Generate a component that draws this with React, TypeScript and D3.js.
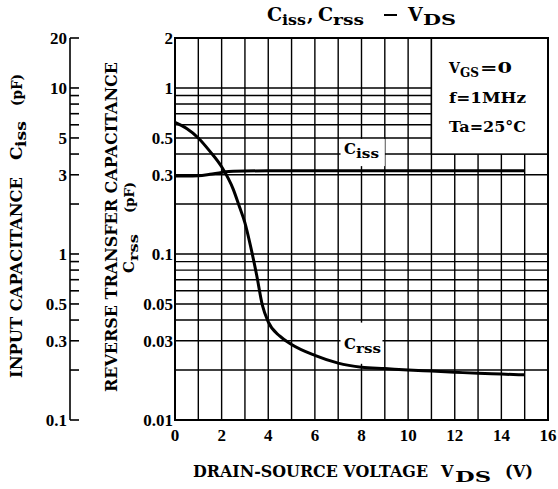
import React from "react";
import * as d3 from "d3";

// x axis
const vdsTicks = [0, 2, 4, 6, 8, 10, 12, 14, 16];
const vdsGrid = d3.range(0, 17);

// inner axis: Crss
const crssTicks = [2, 1, 0.5, 0.3, 0.1, 0.05, 0.03, 0.01];
const crssTickLabels = ["2", "1", "0.5", "0.3", "0.1", "0.05", "0.03", "0.01"];
const crssGrid = [1, 0.9, 0.8, 0.7, 0.6, 0.5, 0.4, 0.3, 0.2, 0.1, 0.09, 0.08, 0.07, 0.06, 0.05, 0.04, 0.03, 0.02];

// outer axis: Ciss
const cissTicks = [20, 10, 5, 3, 1, 0.5, 0.3, 0.1];
const cissTickLabels = ["20", "10", "5", "3", "1", "0.5", "0.3", "0.1"];
const cissMinor = [9, 8, 7, 6, 4, 2, 0.9, 0.8, 0.7, 0.6, 0.4, 0.2];

// curves
const crssV = [0, 0.5, 1.0, 1.5, 2.0, 2.5, 2.75, 3.0, 3.25, 3.5, 3.75, 4.0, 4.5, 5, 6, 7, 8, 9, 10, 11, 12, 13, 14, 15];
const crssPf = [0.62, 0.57, 0.5, 0.415, 0.335, 0.245, 0.195, 0.154, 0.11, 0.075, 0.049, 0.039, 0.032, 0.0285, 0.0245, 0.022, 0.0208, 0.0204, 0.02, 0.0197, 0.0194, 0.0191, 0.0189, 0.0187];
const cissV = [0, 0.5, 1.0, 1.5, 2.0, 2.5, 4, 8, 12, 15];
const cissPf = [2.95, 2.95, 2.96, 3.02, 3.1, 3.15, 3.17, 3.17, 3.17, 3.17];

const NUM = "'Liberation Serif', 'Times New Roman', serif";
const TXT = "'DejaVu Serif', serif";

export default function App() {
  const x = d3.scaleLinear().domain([0, 16]).range([175, 548]);
  const yR = d3.scaleLog().domain([0.01, 2]).range([420, 38]);
  const yC = d3.scaleLog().domain([0.1, 20]).range([420, 38]);

  const crssLine = d3
    .line<number>()
    .x((d, i) => x(crssV[i]))
    .y(d => yR(d))
    .curve(d3.curveMonotoneX);
  const cissLine = d3
    .line<number>()
    .x((d, i) => x(cissV[i]))
    .y(d => yC(d))
    .curve(d3.curveMonotoneX);

  const [x0, x1] = x.range();
  const [yb, yt] = yR.range();
  const fit = "spacingAndGlyphs";

  return (
    <svg
      width={558}
      height={489}
      style={{ position: "absolute", left: 0, top: 0, background: "#fff" }}
      fontWeight="bold"
    >
      <rect width={558} height={489} fill="#fff" />

      {/* title */}
      <g fontFamily={TXT}>
        <text x={267} y={21} fontSize={19}>C</text>
        <text x={282} y={25} fontSize={15} textLength={24} lengthAdjust={fit}>iss</text>
        <text x={307} y={21} fontSize={19}>,</text>
        <text x={318} y={21} fontSize={19}>C</text>
        <text x={333} y={25} fontSize={15} textLength={31} lengthAdjust={fit}>rss</text>
        <line x1={384} x2={397} y1={15} y2={15} stroke="#000" strokeWidth={2} />
        <text x={408} y={21} fontSize={19}>V</text>
        <text x={423} y={25} fontSize={15} textLength={33} lengthAdjust={fit}>DS</text>
      </g>

      {/* grid */}
      <g stroke="#000" strokeWidth={1.4}>
        {vdsGrid.map(v => (
          <line key={"v" + v} x1={x(v)} x2={x(v)} y1={yt} y2={yb} />
        ))}
        {crssGrid.map(v => (
          <line key={"h" + v} x1={x0} x2={x1} y1={yR(v)} y2={yR(v)} />
        ))}
      </g>

      {/* conditions box */}
      <rect
        x={x(11)}
        y={yR(2)}
        width={x(16) - x(11)}
        height={yR(0.4) - yR(2)}
        fill="#fff"
        stroke="#000"
        strokeWidth={1.4}
      />
      <g fontFamily={TXT} fontSize={14}>
        <text x={449} y={73}>V</text>
        <text x={460} y={77} fontSize={12} textLength={19} lengthAdjust={fit}>GS</text>
        <text x={480} y={73} textLength={32} lengthAdjust={fit}>=0</text>
        <text x={449} y={103} textLength={77} lengthAdjust={fit}>f=1MHz</text>
        <text x={449} y={132} textLength={77} lengthAdjust={fit}>Ta=25°C</text>
      </g>

      {/* label cut-outs */}
      <rect x={x(7.1)} y={yR(0.5) + 1} width={x(9.0) - x(7.1)} height={yR(0.343) - yR(0.5)} fill="#fff" />
      <rect x={x(7.1)} y={yR(0.0386)} width={x(8.9) - x(7.1)} height={yR(0.0218) - yR(0.0386)} fill="#fff" />
      <g fontFamily={TXT}>
        <text x={344} y={154} fontSize={15}>C</text>
        <text x={356} y={158} fontSize={13} textLength={23} lengthAdjust={fit}>iss</text>
        <text x={344} y={349} fontSize={15}>C</text>
        <text x={356} y={353} fontSize={13} textLength={25} lengthAdjust={fit}>rss</text>
      </g>

      {/* frame */}
      <rect x={x0} y={yt} width={x1 - x0} height={yb - yt} fill="none" stroke="#000" strokeWidth={2} />

      {/* curves */}
      <path d={cissLine(cissPf) || ""} fill="none" stroke="#000" strokeWidth={3} />
      <path d={crssLine(crssPf) || ""} fill="none" stroke="#000" strokeWidth={3} />

      {/* x tick labels */}
      <g fontFamily={NUM} fontSize={17} textAnchor="middle">
        {vdsTicks.map(v => (
          <text key={v} x={x(v)} y={441}>
            {v}
          </text>
        ))}
      </g>

      {/* Crss tick labels */}
      <g fontFamily={NUM} fontSize={17} textAnchor="end">
        {crssTicks.map((v, i) => (
          <text key={v} x={x0 - 2} y={yR(v)} dy="0.35em">
            {crssTickLabels[i]}
          </text>
        ))}
      </g>

      {/* Ciss axis */}
      <g stroke="#000" strokeWidth={1.6}>
        <line x1={70} x2={70} y1={yC(20)} y2={yC(0.1)} />
        {cissTicks.concat(cissMinor).map(v => (
          <line key={"t" + v} x1={70} x2={79} y1={yC(v)} y2={yC(v)} />
        ))}
      </g>
      <g fontFamily={NUM} fontSize={17} textAnchor="end">
        {cissTicks.map((v, i) => (
          <text key={v} x={67} y={yC(v)} dy="0.35em">
            {cissTickLabels[i]}
          </text>
        ))}
      </g>

      {/* x title */}
      <g fontFamily={TXT}>
        <text x={193} y={477} fontSize={16} textLength={235} lengthAdjust={fit}>DRAIN-SOURCE VOLTAGE</text>
        <text x={441} y={477} fontSize={16}>V</text>
        <text x={455} y={482} fontSize={15} textLength={36} lengthAdjust={fit}>DS</text>
        <text x={505} y={477} fontSize={16} textLength={28} lengthAdjust={fit}>(V)</text>
      </g>

      {/* outer y title */}
      <g fontFamily={TXT} transform="rotate(-90)">
        <text x={-378} y={22} fontSize={17} textLength={201} lengthAdjust={fit}>INPUT CAPACITANCE</text>
        <text x={-160} y={22} fontSize={17}>C</text>
        <text x={-147} y={26} fontSize={14} textLength={26} lengthAdjust={fit}>iss</text>
        <text x={-106} y={22} fontSize={14} textLength={32} lengthAdjust={fit}>(pF)</text>
      </g>

      {/* inner y title */}
      <g fontFamily={TXT} transform="rotate(-90)">
        <text x={-392} y={117} fontSize={17} textLength={330} lengthAdjust={fit}>REVERSE TRANSFER CAPACITANCE</text>
        <text x={-273} y={134} fontSize={15}>C</text>
        <text x={-261} y={138} fontSize={13} textLength={27} lengthAdjust={fit}>rss</text>
        <text x={-213} y={134} fontSize={13} textLength={31} lengthAdjust={fit}>(pF)</text>
      </g>
    </svg>
  );
}
